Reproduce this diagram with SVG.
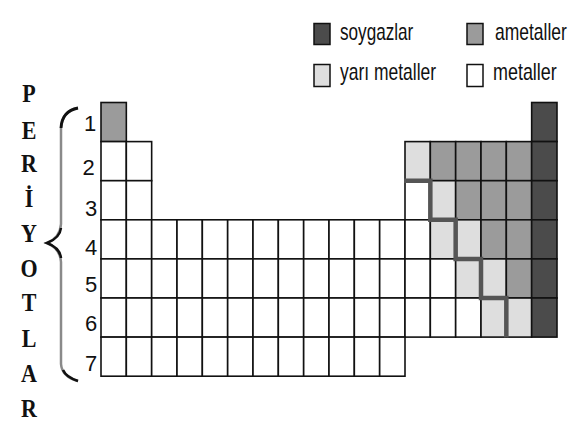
<svg xmlns="http://www.w3.org/2000/svg" width="571" height="425" viewBox="0 0 571 425">
<style>
.m{fill:#ffffff}.a{fill:#9b9b9b}.y{fill:#dedede}.s{fill:#4b4b4b}
#table rect{stroke:#111;stroke-width:1.6}
.leg{font-family:"Liberation Sans",Arial,sans-serif;font-size:23px;fill:#111}
.num{font-family:"Liberation Sans",Arial,sans-serif;font-size:22px;fill:#111;text-anchor:middle}
.per{font-family:"Liberation Serif","Times New Roman",serif;font-size:25px;font-weight:bold;fill:#111;text-anchor:middle}
.sq{stroke:#111;stroke-width:1.5}
</style>
<rect width="571" height="425" fill="#ffffff"/>
<g id="legend">
<g id="leg-soygazlar"><rect class="sq s" x="314" y="23.5" width="16" height="21"/><text class="leg" transform="translate(340,40) scale(0.745,1)">soygazlar</text></g>
<g id="leg-ametaller"><rect class="sq a" x="467" y="23.5" width="16" height="21"/><text class="leg" transform="translate(495,40) scale(0.76,1)">ametaller</text></g>
<g id="leg-yari"><rect class="sq y" x="314" y="64.5" width="16" height="22"/><text class="leg" transform="translate(340,80) scale(0.76,1)">yarı metaller</text></g>
<g id="leg-metaller"><rect class="sq m" x="467" y="64.5" width="16" height="22"/><text class="leg" transform="translate(493,80) scale(0.78,1)">metaller</text></g>
</g>
<g id="periyotlar" transform="matrix(0.88,0,0,1,3.48,0)">
<text class="per" x="29" y="102">P</text>
<text class="per" x="29" y="139">E</text>
<text class="per" x="29" y="172">R</text>
<text class="per" x="29" y="207">İ</text>
<text class="per" x="29" y="242">Y</text>
<text class="per" x="29" y="277">O</text>
<text class="per" x="29" y="311">T</text>
<text class="per" x="29" y="347">L</text>
<text class="per" x="29" y="382">A</text>
<text class="per" x="29" y="417">R</text>
</g>
<g id="brace" fill="none">
<path d="M78,108 Q62,111 61,128 L61,224 Q60,238 47,243 Q60,248 61,262 L61,364 Q62,377 78,381" stroke="#8a8a8a" stroke-width="2.5"/>
<path d="M78,108 Q62,111 61,128" stroke="#111" stroke-width="2.8"/>
<path d="M61,228 Q60,238 47,243 Q60,248 61,258" stroke="#111" stroke-width="2.5"/>
<path d="M63,370 Q66,377 78,381" stroke="#111" stroke-width="2.6"/>
</g>
<g id="numbers">
<text class="num" x="90" y="130.5">1</text>
<text class="num" x="88.5" y="175">2</text>
<text class="num" x="91" y="216">3</text>
<text class="num" x="91" y="255">4</text>
<text class="num" x="91" y="292">5</text>
<text class="num" x="91" y="331">6</text>
<text class="num" x="91" y="371">7</text>
</g>
<g id="table">
<g id="row1">
<rect class="a" x="101" y="102.5" width="25.33" height="39.1"/>
<rect class="s" x="531.67" y="102.5" width="25.33" height="39.1"/>
</g>
<g id="row2">
<rect class="m" x="101" y="141.6" width="25.33" height="39.1"/>
<rect class="m" x="126.33" y="141.6" width="25.33" height="39.1"/>
<rect class="y" x="405" y="141.6" width="25.33" height="39.1"/>
<rect class="a" x="430.33" y="141.6" width="25.33" height="39.1"/>
<rect class="a" x="455.67" y="141.6" width="25.33" height="39.1"/>
<rect class="a" x="481" y="141.6" width="25.33" height="39.1"/>
<rect class="a" x="506.33" y="141.6" width="25.33" height="39.1"/>
<rect class="s" x="531.67" y="141.6" width="25.33" height="39.1"/>
</g>
<g id="row3">
<rect class="m" x="101" y="180.7" width="25.33" height="39.1"/>
<rect class="m" x="126.33" y="180.7" width="25.33" height="39.1"/>
<rect class="m" x="405" y="180.7" width="25.33" height="39.1"/>
<rect class="y" x="430.33" y="180.7" width="25.33" height="39.1"/>
<rect class="a" x="455.67" y="180.7" width="25.33" height="39.1"/>
<rect class="a" x="481" y="180.7" width="25.33" height="39.1"/>
<rect class="a" x="506.33" y="180.7" width="25.33" height="39.1"/>
<rect class="s" x="531.67" y="180.7" width="25.33" height="39.1"/>
</g>
<g id="row4">
<rect class="m" x="101" y="219.8" width="25.33" height="39.1"/>
<rect class="m" x="126.33" y="219.8" width="25.33" height="39.1"/>
<rect class="m" x="151.67" y="219.8" width="25.33" height="39.1"/>
<rect class="m" x="177" y="219.8" width="25.33" height="39.1"/>
<rect class="m" x="202.33" y="219.8" width="25.33" height="39.1"/>
<rect class="m" x="227.67" y="219.8" width="25.33" height="39.1"/>
<rect class="m" x="253" y="219.8" width="25.33" height="39.1"/>
<rect class="m" x="278.33" y="219.8" width="25.33" height="39.1"/>
<rect class="m" x="303.67" y="219.8" width="25.33" height="39.1"/>
<rect class="m" x="329" y="219.8" width="25.33" height="39.1"/>
<rect class="m" x="354.33" y="219.8" width="25.33" height="39.1"/>
<rect class="m" x="379.67" y="219.8" width="25.33" height="39.1"/>
<rect class="m" x="405" y="219.8" width="25.33" height="39.1"/>
<rect class="y" x="430.33" y="219.8" width="25.33" height="39.1"/>
<rect class="y" x="455.67" y="219.8" width="25.33" height="39.1"/>
<rect class="a" x="481" y="219.8" width="25.33" height="39.1"/>
<rect class="a" x="506.33" y="219.8" width="25.33" height="39.1"/>
<rect class="s" x="531.67" y="219.8" width="25.33" height="39.1"/>
</g>
<g id="row5">
<rect class="m" x="101" y="258.9" width="25.33" height="39.1"/>
<rect class="m" x="126.33" y="258.9" width="25.33" height="39.1"/>
<rect class="m" x="151.67" y="258.9" width="25.33" height="39.1"/>
<rect class="m" x="177" y="258.9" width="25.33" height="39.1"/>
<rect class="m" x="202.33" y="258.9" width="25.33" height="39.1"/>
<rect class="m" x="227.67" y="258.9" width="25.33" height="39.1"/>
<rect class="m" x="253" y="258.9" width="25.33" height="39.1"/>
<rect class="m" x="278.33" y="258.9" width="25.33" height="39.1"/>
<rect class="m" x="303.67" y="258.9" width="25.33" height="39.1"/>
<rect class="m" x="329" y="258.9" width="25.33" height="39.1"/>
<rect class="m" x="354.33" y="258.9" width="25.33" height="39.1"/>
<rect class="m" x="379.67" y="258.9" width="25.33" height="39.1"/>
<rect class="m" x="405" y="258.9" width="25.33" height="39.1"/>
<rect class="m" x="430.33" y="258.9" width="25.33" height="39.1"/>
<rect class="y" x="455.67" y="258.9" width="25.33" height="39.1"/>
<rect class="y" x="481" y="258.9" width="25.33" height="39.1"/>
<rect class="a" x="506.33" y="258.9" width="25.33" height="39.1"/>
<rect class="s" x="531.67" y="258.9" width="25.33" height="39.1"/>
</g>
<g id="row6">
<rect class="m" x="101" y="298" width="25.33" height="39.1"/>
<rect class="m" x="126.33" y="298" width="25.33" height="39.1"/>
<rect class="m" x="151.67" y="298" width="25.33" height="39.1"/>
<rect class="m" x="177" y="298" width="25.33" height="39.1"/>
<rect class="m" x="202.33" y="298" width="25.33" height="39.1"/>
<rect class="m" x="227.67" y="298" width="25.33" height="39.1"/>
<rect class="m" x="253" y="298" width="25.33" height="39.1"/>
<rect class="m" x="278.33" y="298" width="25.33" height="39.1"/>
<rect class="m" x="303.67" y="298" width="25.33" height="39.1"/>
<rect class="m" x="329" y="298" width="25.33" height="39.1"/>
<rect class="m" x="354.33" y="298" width="25.33" height="39.1"/>
<rect class="m" x="379.67" y="298" width="25.33" height="39.1"/>
<rect class="m" x="405" y="298" width="25.33" height="39.1"/>
<rect class="m" x="430.33" y="298" width="25.33" height="39.1"/>
<rect class="m" x="455.67" y="298" width="25.33" height="39.1"/>
<rect class="y" x="481" y="298" width="25.33" height="39.1"/>
<rect class="y" x="506.33" y="298" width="25.33" height="39.1"/>
<rect class="s" x="531.67" y="298" width="25.33" height="39.1"/>
</g>
<g id="row7">
<rect class="m" x="101" y="337.1" width="25.33" height="39.1"/>
<rect class="m" x="126.33" y="337.1" width="25.33" height="39.1"/>
<rect class="m" x="151.67" y="337.1" width="25.33" height="39.1"/>
<rect class="m" x="177" y="337.1" width="25.33" height="39.1"/>
<rect class="m" x="202.33" y="337.1" width="25.33" height="39.1"/>
<rect class="m" x="227.67" y="337.1" width="25.33" height="39.1"/>
<rect class="m" x="253" y="337.1" width="25.33" height="39.1"/>
<rect class="m" x="278.33" y="337.1" width="25.33" height="39.1"/>
<rect class="m" x="303.67" y="337.1" width="25.33" height="39.1"/>
<rect class="m" x="329" y="337.1" width="25.33" height="39.1"/>
<rect class="m" x="354.33" y="337.1" width="25.33" height="39.1"/>
<rect class="m" x="379.67" y="337.1" width="25.33" height="39.1"/>
</g>
</g>
<g id="connectors">
<path id="metal-line" d="M404,180.7 H430.33 V219.8 H455.67 V258.9 H481 V298 H506.33 V337.6" fill="none" stroke="#555" stroke-width="4.5"/>
</g>
</svg>
